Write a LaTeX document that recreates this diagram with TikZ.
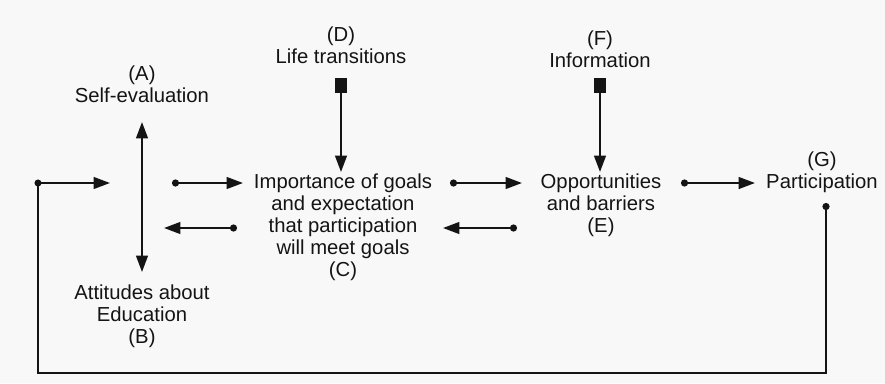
\documentclass[tikz,border=0pt]{standalone}
\usepackage{fontspec}
\setmainfont{Liberation Sans}
\usetikzlibrary{arrows.meta}

\definecolor{paper}{RGB}{248,248,248}
\definecolor{ink}{RGB}{20,20,20}

\tikzset{
    factor/.style={align=center, inner sep=0pt, text=ink,
                   font=\fontsize{17.3}{18.7}\selectfont},
    link/.style={draw=ink, line width=1.9pt,
                 -{Triangle[length=14pt,width=10pt]}},
    dotlink/.style={link, {Circle[length=6pt]}-{Triangle[length=14pt,width=10pt]}},
    twoway/.style={link, {Triangle[length=14pt,width=10pt]}-{Triangle[length=14pt,width=10pt]}},
    inflow/.style={link, {Square[length=13pt,width=10pt]}-{Triangle[length=14pt,width=10pt]}},
}

\begin{document}
\begin{tikzpicture}[x=0.03cm, y=-0.03cm]
    \fill[paper] (0,0) rectangle (885,383);

    % factors
    \node[factor] (A) at (142,84)  {(A)\\Self-evaluation};
    \node[factor] (B) at (142,316) {Attitudes about\\Education\\(B)};
    \node[factor] (D) at (341,45)  {(D)\\Life transitions};
    \node[factor] (C) at (343,227) {Importance of goals\\and expectation\\that participation\\will meet goals\\(C)};
    \node[factor] (F) at (600,49)  {(F)\\Information};
    \node[factor] (E) at (601,205) {Opportunities\\and barriers\\(E)};
    \node[factor] (G) at (822,172) {(G)\\Participation};

    % free ends of the short arrows
    \coordinate (ab-out) at (172,183);
    \coordinate (c-in)   at (243,183);
    \coordinate (c-back) at (237,228);
    \coordinate (ab-in)  at (164,228);
    \coordinate (c-out)  at (450,183);
    \coordinate (e-in)   at (522,183);
    \coordinate (e-back) at (517,228);
    \coordinate (c-ret)  at (443,228);
    \coordinate (e-out)  at (681,183);
    \coordinate (g-in)   at (755,183);
    \coordinate (g-out)  at (826,203);
    \coordinate (corner) at (38,183);
    \coordinate (start)  at (110,183);

    \draw[twoway] (A.south |- 0,122) -- (B.north |- 0,272);
    \draw[inflow] (D.south |- 0,78) -- (D.south |- 0,172);
    \draw[inflow] (F.south |- 0,78) -- (F.south |- 0,172);

    \draw[dotlink] (ab-out) -- (c-in);
    \draw[dotlink] (c-back) -- (ab-in);
    \draw[dotlink] (c-out) -- (e-in);
    \draw[dotlink] (e-back) -- (c-ret);
    \draw[dotlink] (e-out) -- (g-in);

    % feedback from participation
    \draw[dotlink] (g-out) -- (g-out |- 0,373) -| (corner) -- (start);
    \fill[ink] (corner) circle (3pt);
\end{tikzpicture}
\end{document}
